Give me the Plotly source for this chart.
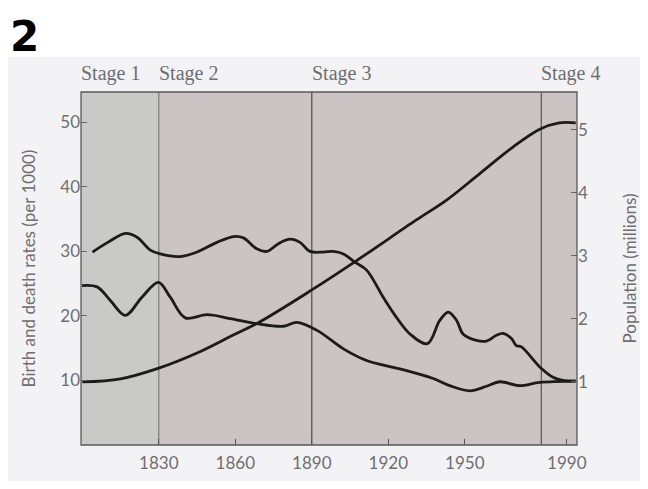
import plotly.graph_objects as go

# ---- data ----
years_birth = [1804, 1810, 1817, 1821.5, 1826.7, 1830.6, 1838.4, 1845, 1852.8, 1859.3, 1863.2,
               1868.4, 1872.4, 1876.9, 1881.5, 1885.4, 1889.3, 1894.5, 1898.4, 1902.4, 1907,
               1911.5, 1918, 1923, 1928.5, 1935.3, 1940.2, 1943.5, 1946.8, 1949.3, 1954.6,
               1958.5, 1962.4, 1965, 1968.3, 1970.2, 1972.2, 1979.4, 1984.6, 1988.5, 1993.5]
birth_rate = [29.9, 31.4, 32.8, 32.2, 30.2, 29.6, 29.2, 29.9, 31.4, 32.3, 32.1,
              30.4, 30.0, 31.2, 31.9, 31.4, 30.0, 29.9, 30.0, 29.6, 28.3,
              27.1, 22.9, 19.9, 17.2, 15.7, 19.3, 20.6, 19.3, 17.2, 16.2,
              16.1, 17.0, 17.3, 16.5, 15.4, 15.2, 12.1, 10.5, 10.0, 9.9]

years_death = [1799.9, 1805.8, 1811, 1816.9, 1823.4, 1829.9, 1834.5, 1840.4, 1848.9, 1858,
               1868.4, 1878.9, 1884.1, 1891.9, 1902.4, 1911.5, 1924.5, 1937.6, 1944.1,
               1951.9, 1958.5, 1963.7, 1971.5, 1979.4, 1993.5]
death_rate = [24.7, 24.5, 22.4, 20.1, 22.9, 25.2, 22.9, 19.7, 20.2, 19.6,
              18.8, 18.4, 19.0, 17.8, 14.9, 13.1, 11.8, 10.3, 9.2,
              8.4, 9.1, 9.8, 9.2, 9.7, 9.9]

years_pop = [1800, 1815, 1830, 1845, 1858, 1869, 1890, 1907, 1931, 1943, 1956, 1969, 1979.4, 1987, 1993.5]
population = [1.0, 1.05, 1.22, 1.46, 1.72, 1.94, 2.46, 2.91, 3.57, 3.89, 4.31, 4.73, 5.01, 5.11, 5.11]

stage_starts = [1799.5, 1830, 1890, 1980]
stage_labels = ["Stage 1", "Stage 2", "Stage 3", "Stage 4"]
x_ticks = [1830, 1860, 1890, 1920, 1950, 1990]
y_ticks = [10, 20, 30, 40, 50]
pop_ticks = [1, 2, 3, 4, 5]

X_RANGE = [1799.5, 1994]
Y_RANGE = [0, 54.7]
POP_RANGE = [0, 5.6]

LINE = "#1c1a1b"
TXT = "#6e6e70"
TICKFONT = dict(family="Lato, Open Sans, sans-serif", size=17, color=TXT)

fig = go.Figure()
for xs, ys, ax in [(years_birth, birth_rate, "y"), (years_death, death_rate, "y"), (years_pop, population, "y2")]:
    fig.add_trace(go.Scatter(x=xs, y=ys, mode="lines", yaxis=ax,
                             line=dict(color=LINE, width=2.8, shape="spline", smoothing=1.0),
                             showlegend=False))

shapes = [
    # off-white scanned page region
    dict(type="rect", xref="paper", yref="paper", x0=-0.15, x1=1.14, y0=-0.15, y1=1.099,
         fillcolor="#f3f3f6", line=dict(width=0), layer="below"),
    # stage 1 grey band
    dict(type="rect", xref="x", yref="paper", x0=stage_starts[0], x1=stage_starts[1], y0=0, y1=1,
         fillcolor="#c9c9c8", line=dict(width=0), layer="below"),
    # stages 2-4 pinkish band
    dict(type="rect", xref="x", yref="paper", x0=stage_starts[1], x1=X_RANGE[1], y0=0, y1=1,
         fillcolor="#ccc3c5", line=dict(width=0), layer="below"),
]
line_cols = {1830: "#7a7a7a", 1890: "#4a4a4a", 1980: "#555555"}
for s in stage_starts[1:]:
    shapes.append(dict(type="line", xref="x", yref="paper", x0=s, x1=s, y0=0, y1=1,
                       line=dict(color=line_cols[s], width=1.2), layer="below"))
# frame
shapes.append(dict(type="rect", xref="paper", yref="paper", x0=0, x1=1, y0=0, y1=1,
                   line=dict(color="#5a5a5a", width=1.3), fillcolor="rgba(0,0,0,0)", layer="above"))

annotations = []
for s, lab in zip(stage_starts, stage_labels):
    annotations.append(dict(x=max(s, X_RANGE[0]), y=1, xref="x", yref="paper", text=lab, showarrow=False,
                            xanchor="left", yanchor="bottom", yshift=5, xshift=-2,
                            font=dict(family="Liberation Serif, serif", size=20, color=TXT)))
annotations.append(dict(x=-0.148, y=1.156, xref="paper", yref="paper", text="<b>2</b>", showarrow=False,
                        xanchor="left", yanchor="middle",
                        font=dict(family="DejaVu Sans, sans-serif", size=42, color="#000000")))

# page body has an 8px margin, so the figure is sized to fit inside the 648x489 window
fig.update_layout(
    width=632, height=473,
    margin=dict(l=73, r=63, t=84, b=36),
    paper_bgcolor="#ffffff",
    plot_bgcolor="rgba(0,0,0,0)",
    shapes=shapes,
    annotations=annotations,
    xaxis=dict(range=X_RANGE, tickvals=x_ticks, ticks="inside", ticklen=6, tickcolor="#555",
               showgrid=False, zeroline=False, showline=False, tickfont=TICKFONT,
               ticklabelstandoff=6, automargin=False),
    yaxis=dict(range=Y_RANGE, tickvals=y_ticks, ticks="inside", ticklen=6, tickcolor="#666",
               showgrid=False, zeroline=False, showline=False, tickfont=TICKFONT, automargin=False,
               title=dict(text="Birth and death rates (per 1000)", standoff=20,
                          font=dict(family="Lato, Open Sans, sans-serif", size=17, color=TXT))),
    yaxis2=dict(range=POP_RANGE, tickvals=pop_ticks, ticks="inside", ticklen=6, tickcolor="#666",
                overlaying="y", side="right", showgrid=False, zeroline=False, showline=False,
                tickfont=TICKFONT, automargin=False,
                title=dict(text="Population (millions)", standoff=38,
                           font=dict(family="Lato, Open Sans, sans-serif", size=17, color=TXT))),
)

fig.write_html("out.html")
